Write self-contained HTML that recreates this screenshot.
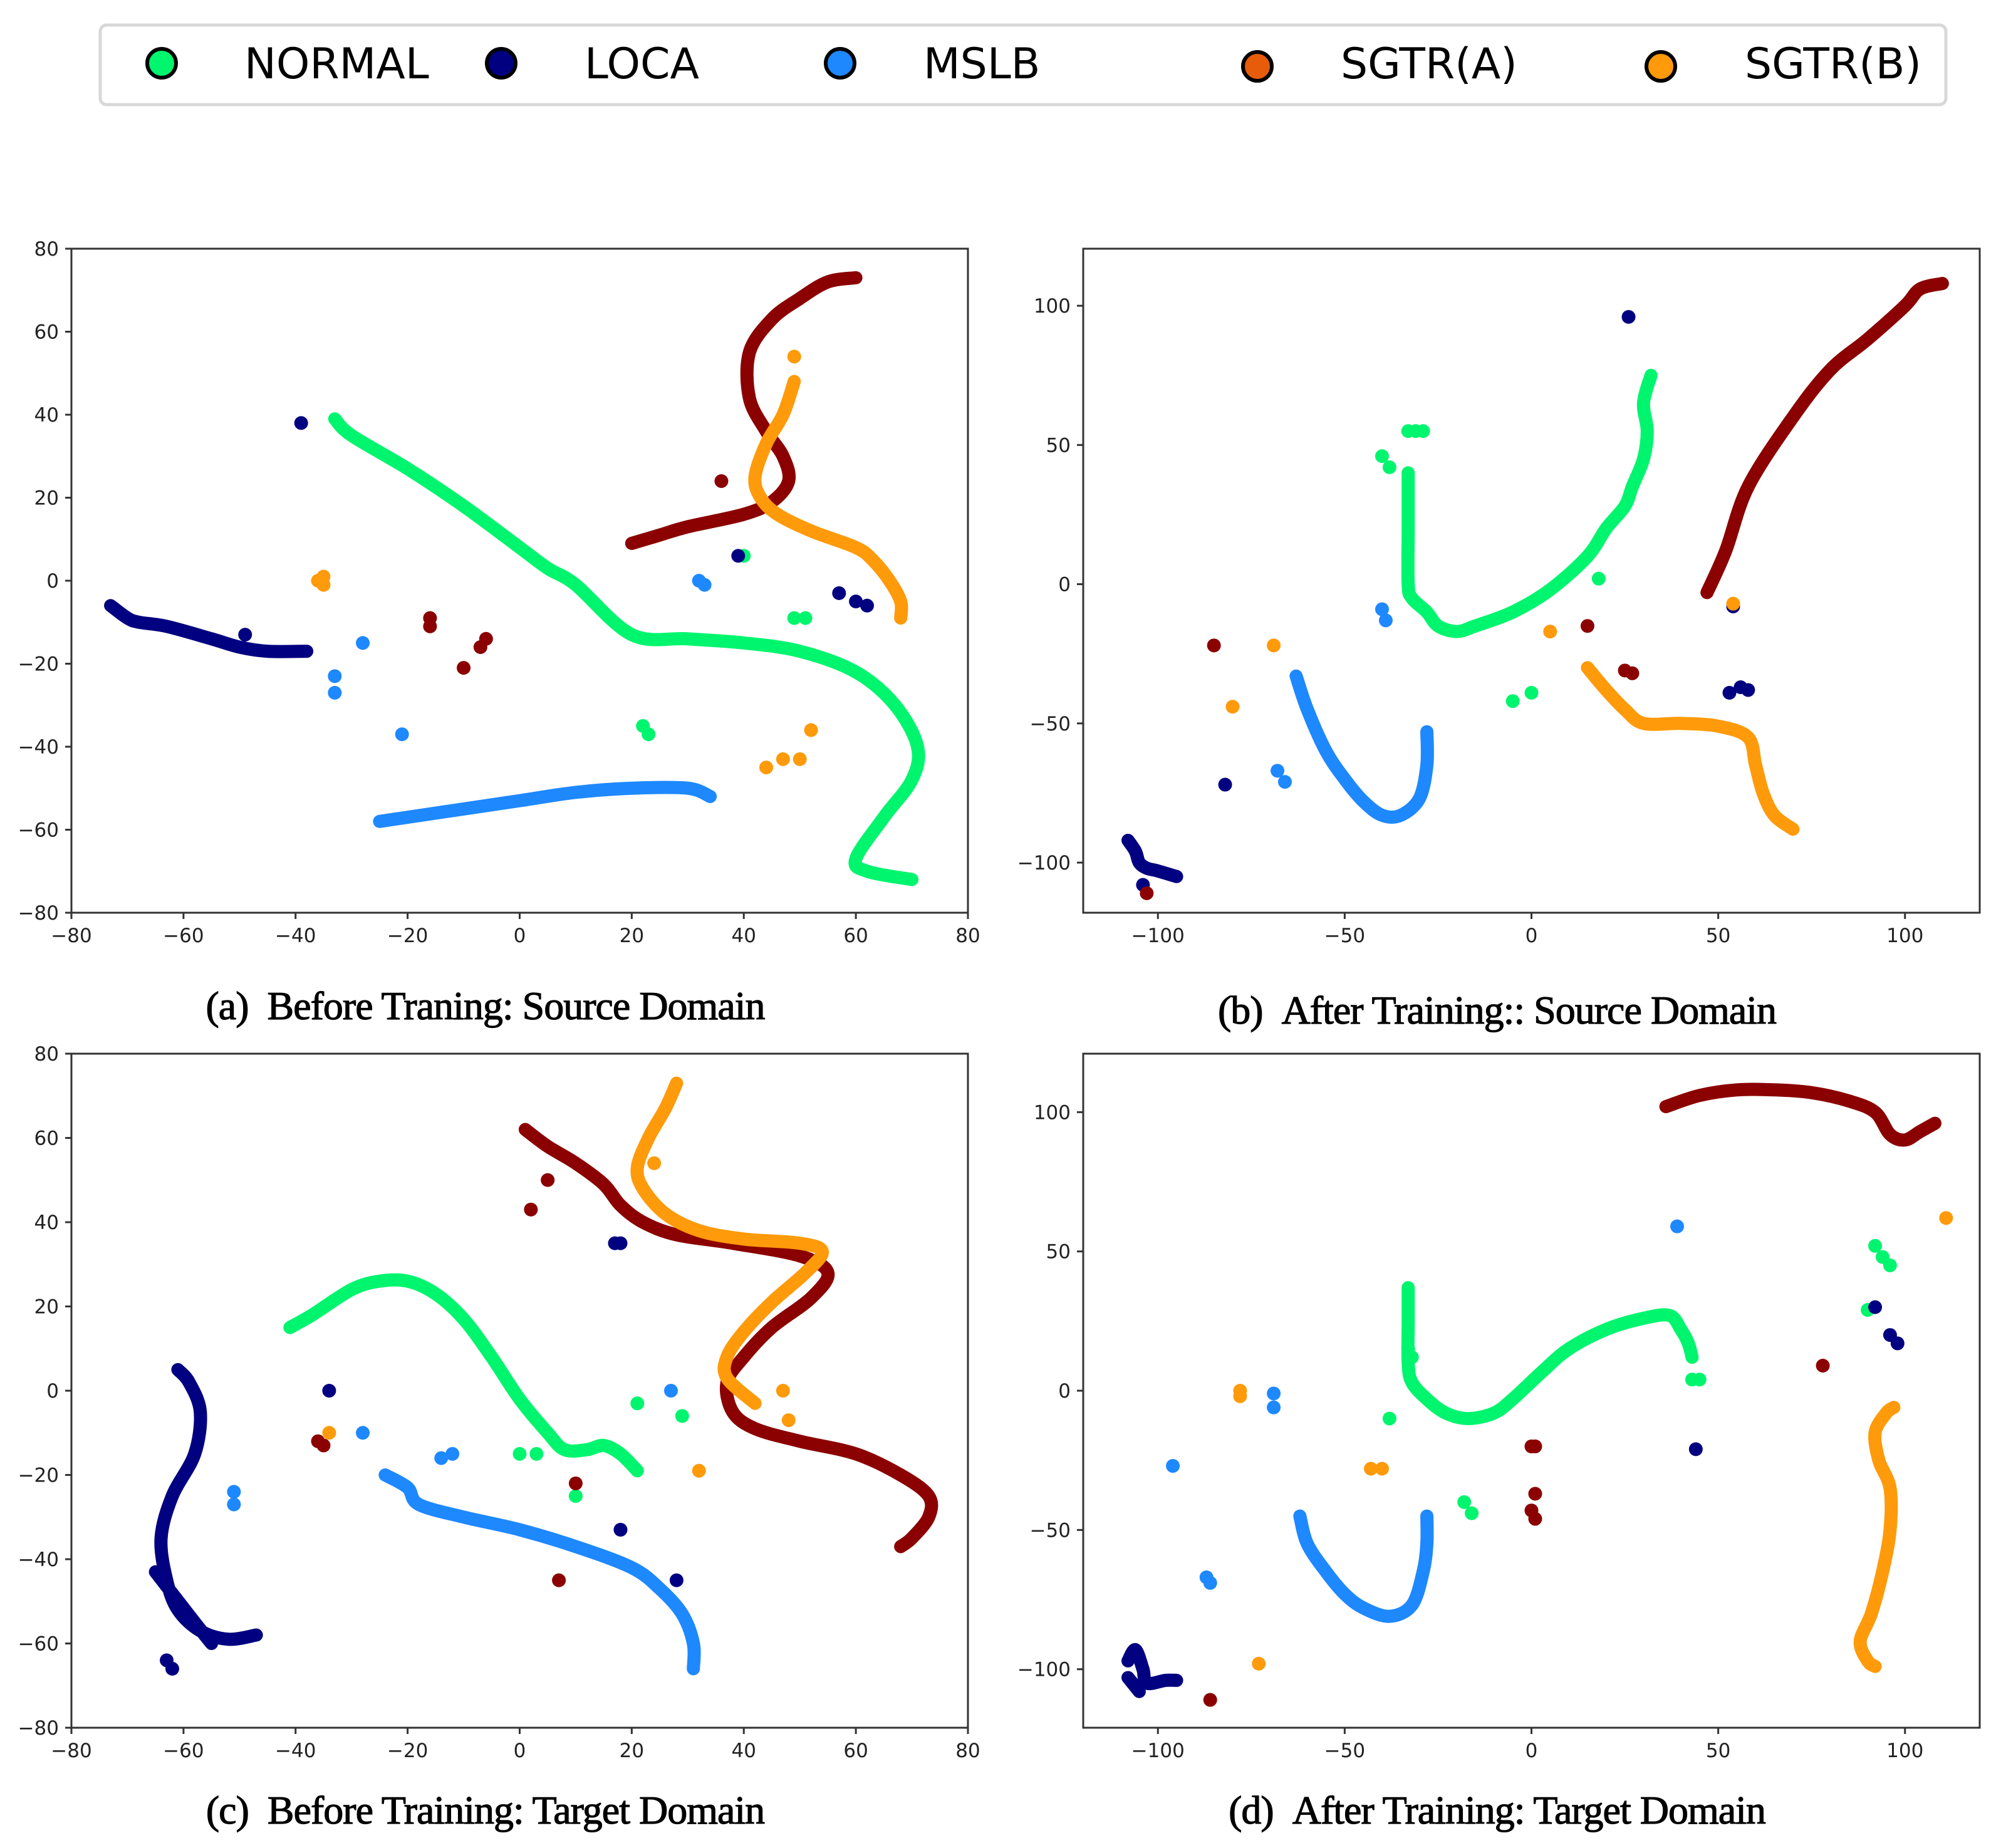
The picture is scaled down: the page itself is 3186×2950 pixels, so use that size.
<!DOCTYPE html>
<html><head><meta charset="utf-8"><style>
body{margin:0;background:#fff;}
svg{display:block;}
text{font-family:"DejaVu Sans","Liberation Sans",sans-serif;}
.cap{font-family:"Liberation Serif",serif;font-size:64px;letter-spacing:-1px;stroke:#000;stroke-width:1.2px;}
</style></head><body>
<svg id="fig" width="3186" height="2950" xmlns="http://www.w3.org/2000/svg">
<g>
<rect x="160" y="40" width="2946" height="127" rx="10" fill="#fff" stroke="#d8d8d8" stroke-width="5"/>
<g><circle cx="258" cy="101" r="23" fill="#00f56e" stroke="#000" stroke-width="6"/><text x="390" y="125" font-size="68">NORMAL</text></g>
<g><circle cx="800" cy="101" r="23" fill="#000080" stroke="#000" stroke-width="6"/><text x="933" y="125" font-size="68">LOCA</text></g>
<g><circle cx="1341" cy="101" r="23" fill="#1e88ff" stroke="#000" stroke-width="6"/><text x="1474" y="125" font-size="68">MSLB</text></g>
<g><circle cx="2007" cy="106" r="23" fill="#e65c0a" stroke="#000" stroke-width="6"/><text x="2140" y="125" font-size="68">SGTR(A)</text></g>
<g><circle cx="2651" cy="106" r="23" fill="#ff9a0a" stroke="#000" stroke-width="6"/><text x="2785" y="125" font-size="68">SGTR(B)</text></g>
</g>
</svg>
<script>
const colors={normal:'#00f56e',loca:'#000080',mslb:'#1e88ff',sgtra:'#8b0000',sgtrb:'#ff9a0a'};
// Panel A data
const aNormalLine=[[-33,39],[-30,35],[-20,27],[-10,18],[0,8],[5,3],[10,-1],[20,-13],[30,-14],[40,-15],[50,-17],[60,-22],[67,-30],[71,-40],[70,-48],[65,-57],[60,-67],[62,-70],[70,-72]];
const aNormalDots=[[40,6],[49,-9],[51,-9],[22,-35],[23,-37]];
const aLocaLine=[[-73,-6],[-70,-9],[-68,-10],[-63,-11],[-55,-14],[-50,-16],[-45,-17],[-38,-17]];
const aLocaDots=[[-39,38],[-49,-13],[39,6],[57,-3],[60,-5],[62,-6]];
const aMslbLine=[[-25,-58],[-20,-57],[-10,-55],[0,-53],[10,-51],[20,-50],[30,-50],[34,-52]];
const aMslbDots=[[-28,-15],[-33,-23],[-33,-27],[-21,-37],[32,0],[33,-1]];
const aSgtraLine=[[20,9],[25,11],[30,13],[40,16],[45,19],[48,24],[47,30],[44,36],[41,44],[41,55],[45,63],[50,68],[55,72],[60,73]];
const aSgtraDots=[[36,24],[-16,-9],[-16,-11],[-10,-21],[-6,-14],[-7,-16]];
const aSgtrbLine=[[49,48],[47,40],[44,33],[42,25],[43,20],[46,16],[52,12],[60,8],[63,5],[66,0],[68,-5],[68,-9]];
const aSgtrbDots=[[49,54],[-36,0],[-35,1],[-35,-1],[52,-36],[44,-45],[47,-43],[50,-43]];
// Panel B data
const bNormalLine=[[-33,40],[-33,20],[-33,0],[-32,-5],[-28,-10],[-25,-15],[-20,-17],[-15,-15],[-5,-10],[5,-2],[15,10],[20,20],[25,28],[27,35],[30,45],[31,55],[30,65],[32,75]];
const bNormalDots=[[-33,55],[-31,55],[-29,55],[-40,46],[-38,42],[18,2],[-5,-42],[0,-39]];
const bLocaLine=[[-108,-92],[-106,-96],[-105,-100],[-103,-102],[-100,-103],[-95,-105]];
const bLocaDots=[[-104,-108],[26,96],[54,-8],[-82,-72],[53,-39],[56,-37],[58,-38]];
const bMslbLine=[[-63,-33],[-60,-45],[-55,-60],[-50,-70],[-45,-78],[-40,-83],[-35,-83],[-30,-77],[-28,-65],[-28,-53]];
const bMslbDots=[[-40,-9],[-39,-13],[-68,-67],[-66,-71]];
const bSgtraLine=[[47,-3],[52,12],[58,35],[70,60],[80,77],[90,88],[100,100],[104,106],[110,108]];
const bSgtraDots=[[-85,-22],[15,-15],[25,-31],[27,-32],[-103,-111]];
const bSgtrbLine=[[15,-30],[20,-38],[25,-45],[30,-50],[40,-50],[50,-51],[58,-55],[60,-65],[62,-75],[65,-83],[70,-88]];
const bSgtrbDots=[[-69,-22],[-80,-44],[5,-17],[54,-7]];
// Panel C data
const cNormalLine=[[-41,15],[-37,18],[-30,24],[-25,26],[-20,26],[-15,23],[-10,17],[-5,8],[0,-2],[5,-10],[8,-14],[12,-14],[15,-13],[18,-15],[21,-19]];
const cNormalDots=[[0,-15],[3,-15],[21,-3],[29,-6],[10,-25]];
const cLocaLine=[[-61,5],[-59,2],[-57,-5],[-58,-15],[-62,-25],[-64,-35],[-63,-45],[-61,-52],[-57,-57],[-52,-59],[-47,-58]];
const cLocaLine2=[[-65,-43],[-58,-55],[-55,-60]];
const cLocaDots=[[-63,-64],[-62,-66],[-34,0],[17,35],[18,35],[18,-33],[28,-45]];
const cMslbLine=[[-24,-20],[-20,-23],[-18,-27],[-10,-30],[0,-33],[10,-37],[20,-42],[25,-47],[29,-53],[31,-60],[31,-66]];
const cMslbDots=[[-51,-24],[-51,-27],[-28,-10],[-14,-16],[-12,-15],[27,0]];
const cSgtraLine=[[1,62],[5,58],[10,54],[15,49],[18,44],[22,40],[28,37],[38,35],[50,32],[55,28],[52,22],[45,15],[40,8],[37,2],[38,-5],[42,-9],[50,-12],[60,-15],[68,-20],[73,-25],[73,-30],[70,-35],[68,-37]];
const cSgtraDots=[[2,43],[5,50],[-36,-12],[-35,-13],[10,-22],[7,-45]];
const cSgtrbLine=[[28,73],[26,67],[23,60],[21,53],[22,48],[26,42],[32,38],[40,36],[50,35],[54,33],[51,28],[45,21],[40,14],[37,8],[37,3],[42,-3]];
const cSgtrbDots=[[24,54],[-34,-10],[47,0],[48,-7],[32,-19]];
// Panel D data
const dNormalLine=[[-33,37],[-33,25],[-33,10],[-32,3],[-28,-3],[-23,-8],[-17,-10],[-10,-8],[-5,-3],[3,7],[10,15],[20,22],[30,26],[37,27],[40,22],[42,17],[43,12]];
const dNormalDots=[[-33,15],[-32,12],[43,4],[45,4],[-38,-10],[-18,-40],[-16,-44],[92,52],[94,48],[96,45],[90,29]];
const dLocaLine=[[-108,-97],[-106,-93],[-104,-100],[-103,-105],[-98,-104],[-95,-104]];
const dLocaLine2=[[-108,-103],[-105,-108]];
const dLocaDots=[[92,30],[96,20],[98,17],[44,-21]];
const dMslbLine=[[-62,-45],[-60,-55],[-55,-65],[-50,-73],[-45,-78],[-38,-81],[-32,-77],[-29,-65],[-28,-55],[-28,-45]];
const dMslbDots=[[39,59],[-96,-27],[-87,-67],[-86,-69],[-69,-1],[-69,-6]];
const dSgtraLine=[[36,102],[45,106],[55,108],[65,108],[75,107],[85,104],[92,100],[96,92],[100,90],[104,93],[108,96]];
const dSgtraDots=[[0,-20],[1,-20],[1,-37],[0,-43],[1,-46],[78,9],[-86,-111]];
const dSgtrbLine=[[97,-6],[95,-8],[92,-15],[93,-25],[96,-35],[96,-50],[94,-65],[91,-80],[88,-90],[90,-97],[92,-99]];
const dSgtrbDots=[[-78,0],[-78,-2],[-43,-28],[-40,-28],[-73,-98],[111,62]];
const abTicks=[-80,-60,-40,-20,0,20,40,60,80];
const bdTicks=[-100,-50,0,50,100];
const captions=['(a)\u00a0\u00a0Before Traning: Source Domain','(b)\u00a0\u00a0After Training:: Source Domain','(c)\u00a0\u00a0Before Training: Target Domain','(d)\u00a0\u00a0After Training: Target Domain'];

const NS='http://www.w3.org/2000/svg';
const svg=document.getElementById('fig');
function mk(tag,attrs,parent){const e=document.createElementNS(NS,tag);for(const k in attrs)e.setAttribute(k,attrs[k]);(parent||svg).appendChild(e);return e;}
function smooth(pts){
 if(pts.length<3)return 'M'+pts.map(p=>p[0]+','+p[1]).join(' L');
 let d='M'+pts[0][0]+','+pts[0][1];
 for(let i=0;i<pts.length-1;i++){
  const p0=pts[i-1]||pts[i],p1=pts[i],p2=pts[i+1],p3=pts[i+2]||p2;
  const c1=[p1[0]+(p2[0]-p0[0])/6,p1[1]+(p2[1]-p0[1])/6];
  const c2=[p2[0]-(p3[0]-p1[0])/6,p2[1]-(p3[1]-p1[1])/6];
  d+=' C'+c1[0]+','+c1[1]+' '+c2[0]+','+c2[1]+' '+p2[0]+','+p2[1];
 }
 return d;
}
const panels=[
 {id:'a',L:114,R:1545,T:397,B:1457,xmin:-80,xmax:80,ymin:-80,ymax:80,xt:abTicks,yt:abTicks,cy:1607,
  series:[['normal',aNormalLine,aNormalDots],['loca',aLocaLine,aLocaDots],['mslb',aMslbLine,aMslbDots],['sgtra',aSgtraLine,aSgtraDots],['sgtrb',aSgtrbLine,aSgtrbDots]]},
 {id:'b',L:1729,R:3160,T:397,B:1457,xmin:-120,xmax:120,ymin:-118,ymax:120.5,xt:bdTicks,yt:bdTicks,cy:1614,
  series:[['normal',bNormalLine,bNormalDots],['loca',bLocaLine,bLocaDots],['mslb',bMslbLine,bMslbDots],['sgtra',bSgtraLine,bSgtraDots],['sgtrb',bSgtrbLine,bSgtrbDots]]},
 {id:'c',L:114,R:1545,T:1682,B:2758,xmin:-80,xmax:80,ymin:-80,ymax:80,xt:abTicks,yt:abTicks,cy:2891,
  series:[['normal',cNormalLine,cNormalDots],['loca',cLocaLine,cLocaDots],['loca',cLocaLine2,[]],['mslb',cMslbLine,cMslbDots],['sgtra',cSgtraLine,cSgtraDots],['sgtrb',cSgtrbLine,cSgtrbDots]]},
 {id:'d',L:1729,R:3160,T:1682,B:2758,xmin:-120,xmax:120,ymin:-121,ymax:121,xt:bdTicks,yt:bdTicks,cy:2891,
  series:[['normal',dNormalLine,dNormalDots],['loca',dLocaLine,dLocaDots],['loca',dLocaLine2,[]],['mslb',dMslbLine,dMslbDots],['sgtra',dSgtraLine,dSgtraDots],['sgtrb',dSgtrbLine,dSgtrbDots]]}
];
panels.forEach((p,i)=>{
 const sx=v=>p.L+(v-p.xmin)/(p.xmax-p.xmin)*(p.R-p.L);
 const sy=v=>p.B-(v-p.ymin)/(p.ymax-p.ymin)*(p.B-p.T);
 const g=mk('g',{});
 
 
 p.series.forEach(s=>{
  const [name,line,dots]=s;
  const pl=mk('path',{d:smooth(line.map(q=>[sx(q[0]),sy(q[1])])),fill:'none',stroke:colors[name],'stroke-width':21,'stroke-linecap':'round','stroke-linejoin':'round'},g);
  
  
  dots.forEach(q=>{
   const c=mk('circle',{cx:sx(q[0]),cy:sy(q[1]),r:11,fill:colors[name]},g);
   
   
  });
 });
 const fr=mk('rect',{x:p.L,y:p.T,width:p.R-p.L,height:p.B-p.T,fill:'none',stroke:'#333','stroke-width':3},g);
 
 
 p.xt.forEach(v=>{
  mk('line',{x1:sx(v),x2:sx(v),y1:p.B,y2:p.B+10,stroke:'#333','stroke-width':3},g);
  const t=mk('text',{x:sx(v),y:p.B+47,'font-size':31,'text-anchor':'middle',fill:'#222'},g);
  t.textContent=String(v).replace('-','\u2212');
  
  
 });
 p.yt.forEach(v=>{
  mk('line',{x1:p.L-10,x2:p.L,y1:sy(v),y2:sy(v),stroke:'#333','stroke-width':3},g);
  const t=mk('text',{x:p.L-20,y:sy(v)+11,'font-size':31,'text-anchor':'end',fill:'#222'},g);
  t.textContent=String(v).replace('-','\u2212');
  
  
 });
 const c=mk('text',{x:(p.L+p.R)/2-55,y:p.cy+20,'text-anchor':'middle','class':'cap'},g);
 c.textContent=captions[i];
 
 
});
</script>
</body></html>
